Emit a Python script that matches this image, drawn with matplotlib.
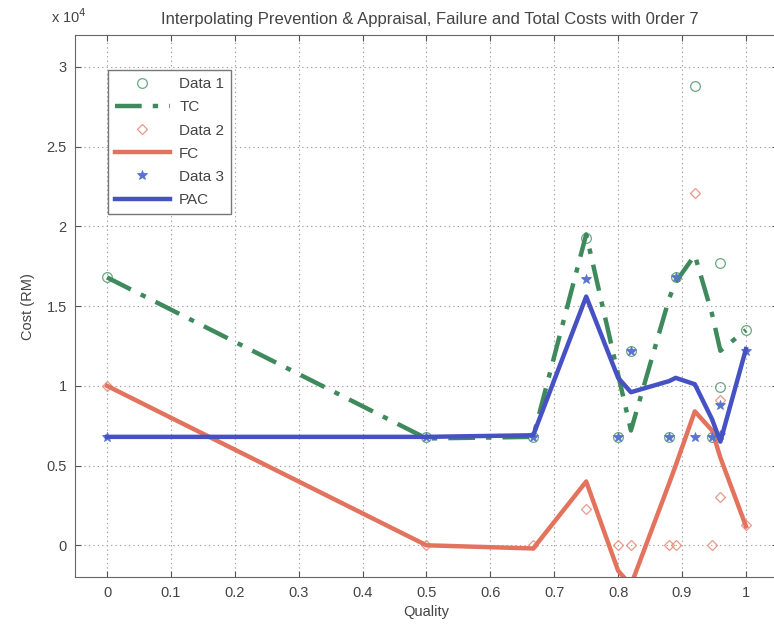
import numpy as np
import matplotlib.pyplot as plt
from matplotlib.ticker import FuncFormatter

plt.rcParams['font.family'] = ['Liberation Sans', 'DejaVu Sans']

# quality levels of the sampled points (two samples share q = 0.96)
quality = [0, 0.5, 0.667, 0.75, 0.80, 0.82, 0.88, 0.89, 0.92, 0.947, 0.96, 0.96, 1.0]
total_cost = [16800, 6800, 6800, 19300, 6800, 12200, 6800, 16800, 28800, 6800, 17700, 9900, 13500]
failure_cost = [10000, 0, 0, 2300, 0, 0, 0, 0, 22100, 0, 9100, 3000, 1300]
prev_cost = [6800, 6800, 6800, 16700, 6800, 12200, 6800, 16800, 6800, 6800, 8800, 6900, 12200]

# order-7 interpolated values at each distinct quality level
q_fit = [0, 0.5, 0.667, 0.75, 0.80, 0.82, 0.88, 0.89, 0.92, 0.947, 0.96, 1.0]
tc_fit = [16800, 6700, 6800, 19500, 10700, 7200, 15500, 16500, 18200, 14500, 12200, 13500]
fc_fit = [10000, 0, -200, 4000, -1600, -2500, 3900, 5000, 8400, 7200, 5500, 1200]
pac_fit = [6800, 6800, 6900, 15600, 10500, 9600, 10300, 10500, 10100, 7900, 6500, 12300]

green = '#3f8a5c'
red = '#e4735e'
blue = '#4651c4'
txt = '#444444'

fig = plt.figure(figsize=(7.74, 6.26), dpi=100)
ax = fig.add_axes([0.097, 0.078, 0.908, 0.866])

ax.plot(quality, total_cost, 'o', mfc='none', mec='#6aa882', ms=7, mew=0.9, label='Data 1')
ax.plot(q_fit, tc_fit, color=green, lw=3.2, dashes=(6, 2.5, 1.2, 2.5), label='TC')
ax.plot(quality, failure_cost, 'D', mfc='none', mec='#e89a8a', ms=5.5, mew=0.9, label='Data 2')
ax.plot(q_fit, fc_fit, color=red, lw=3.2, label='FC')
ax.plot(quality, prev_cost, '*', color='#5a73d0', ms=7, mew=0.6, label='Data 3')
ax.plot(q_fit, pac_fit, color=blue, lw=3.2, label='PAC')

ax.set_xlim(-0.05, 1.05)
ax.set_ylim(-2000, 32000)
ax.set_xticks(np.arange(0, 1.01, 0.1))
ax.set_yticks(np.arange(0, 30001, 5000))
ax.xaxis.set_major_formatter(FuncFormatter(lambda v, p: f'{v:g}'))
ax.yaxis.set_major_formatter(FuncFormatter(lambda v, p: f'{v / 1e4:g}'))
ax.tick_params(direction='in', top=True, right=True, labelsize=10.5, colors='#555555',
               labelcolor=txt, length=4, pad=6)
ax.grid(True, linestyle=(0, (1.2, 2.8)), color='#a0a0a0', linewidth=0.8)
for s in ax.spines.values():
    s.set_color('#666666')

ax.set_xlabel('Quality', fontsize=10.5, color=txt, labelpad=4)
ax.set_ylabel('Cost (RM)', fontsize=10.5, color=txt, labelpad=8)
ax.set_title('Interpolating Prevention & Appraisal, Failure and Total Costs with 0rder 7',
             fontsize=12, color=txt, pad=8, x=0.505)
fig.text(0.066, 0.963, r'x 10$^4$', fontsize=10.5, color=txt)

leg = ax.legend(loc='upper left', bbox_to_anchor=(0.047, 0.935), borderaxespad=0,
                fontsize=11, fancybox=False, framealpha=1, edgecolor='#777777',
                handlelength=3.6, borderpad=0.45, labelspacing=0.6, handletextpad=0.6)
for t in leg.get_texts():
    t.set_color(txt)

fig.savefig('out.png', dpi=100)
